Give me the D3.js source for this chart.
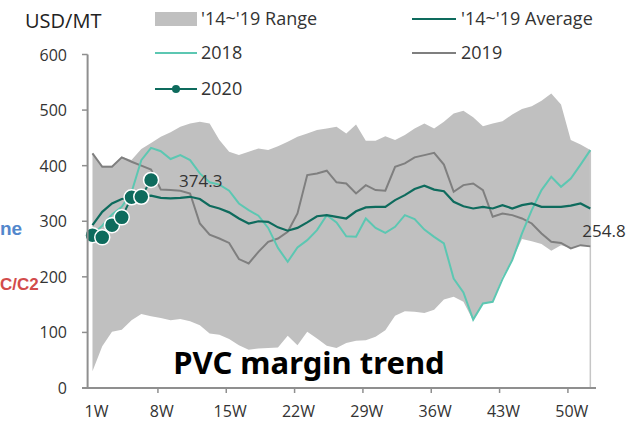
<!DOCTYPE html>
<html>
<head>
<meta charset="utf-8">
<script src="https://cdn.jsdelivr.net/npm/d3@7"></script>
<style>
html,body{margin:0;padding:0;background:#fff;}
svg{display:block;font-family:"Open Sans","Noto Sans",sans-serif;}
</style>
</head>
<body>
<svg id="chart" width="644" height="424"></svg>
<script>
const weeks = d3.range(1, 53);
const tickWeeks = [1, 8, 15, 22, 29, 36, 43, 50];
const tickLabels = ["1W", "8W", "15W", "22W", "29W", "36W", "43W", "50W"];
const yTicks = [0, 100, 200, 300, 400, 500, 600];

const rangeHigh = [423,400,400,416,410,430,441,452,460,470,476,479,476,446,425,419,425,431,428,435,
  443,452,458,464,467,470,458,474,445,445,453,446,455,467,476,467,479,494,499,487,
  471,476,480,492,502,507,517,530,510,446,438,428];
const rangeLow = [30,75,101,105,122,133,129,126,122,124,120,113,98,96,88,77,69,71,72,73,
  94,77,101,89,76,72,81,85,86,92,104,130,138,137,135,141,159,164,155,121,
  152,155,200,230,268,264,259,247,257,252,257,254];
const avg = [293,317,332,340,342,345,346,342,341,342,344,340,328,323,316,305,296,300,299,289,
  283,288,298,309,311,308,305,318,325,326,326,338,347,358,364,357,354,335,327,323,
  326,323,329,323,329,332,326,326,326,328,332,323];
const y2018 = [276,292,312,326,352,410,432,426,412,419,410,386,370,366,355,332,320,310,288,252,
  227,253,266,284,311,298,273,272,305,288,279,290,311,304,285,272,260,197,172,123,
  152,155,196,230,278,320,356,380,362,377,402,428];
const y2019 = [422,398,398,415,407,400,393,357,356,355,350,296,276,269,261,232,224,245,263,269,
  281,314,383,386,391,370,368,350,365,356,355,398,404,415,419,423,402,353,365,368,
  356,308,314,311,305,296,278,263,261,251,257,254.8];
const y2020 = [275,271,293,307,343,344,374.3];

const svg = d3.select("#chart");

const x = d3.scaleBand().domain(weeks).range([87.6, 595.2]).padding(0);
const cx = w => x(w) + x.bandwidth() / 2;
const y = d3.scaleLinear().domain([0, 600]).range([388, 54.5]);

// partially visible labels from neighbouring chart
svg.append("text").attr("x", 0).attr("y", 235).attr("font-family", "Arial, 'Liberation Sans', sans-serif")
  .attr("font-size", 19).attr("font-weight", "bold").attr("fill", "#5287cc").text("ne");
svg.append("text").attr("x", 0).attr("y", 290).attr("font-family", "Arial, 'Liberation Sans', sans-serif")
  .attr("font-size", 17).attr("font-weight", "bold").attr("fill", "#d24b4b").text("C/C2");

// range area
svg.append("path")
  .datum(weeks.map((w, i) => ({w, lo: rangeLow[i], hi: rangeHigh[i]})))
  .attr("fill", "#c0c0c0")
  .attr("d", d3.area().x(d => cx(d.w)).y0(d => y(d.lo)).y1(d => y(d.hi)));

// right marker line
svg.append("line").attr("x1", cx(52)).attr("x2", cx(52))
  .attr("y1", y(y2018[51])).attr("y2", y(0))
  .attr("stroke", "#c6c6c6").attr("stroke-width", 1.5);

const line = d3.line().x((d, i) => cx(weeks[i])).y(d => y(d));

svg.append("path").datum(y2019).attr("fill", "none").attr("stroke", "#7f7f7f")
  .attr("stroke-width", 2).attr("d", line);
svg.append("path").datum(y2018).attr("fill", "none").attr("stroke", "#5cc7b2")
  .attr("stroke-width", 2).attr("d", line);
svg.append("path").datum(avg).attr("fill", "none").attr("stroke", "#0e6b5d")
  .attr("stroke-width", 2.2).attr("d", line);
svg.append("path").datum(y2020).attr("fill", "none").attr("stroke", "#0e6b5d")
  .attr("stroke-width", 2).attr("d", line);
svg.selectAll("circle.p20").data(y2020).enter().append("circle")
  .attr("class", "p20")
  .attr("cx", (d, i) => cx(weeks[i])).attr("cy", d => y(d)).attr("r", 7.5)
  .attr("fill", "#0e6b5d").attr("stroke", "#fff").attr("stroke-width", 1.5);

// value labels
svg.append("text").attr("x", cx(7) + 28).attr("y", y(y2020[6]) + 7)
  .attr("font-size", 17).attr("fill", "#333").text(String(y2020[6]));
svg.append("text").attr("x", cx(52) - 8).attr("y", y(y2019[51]) - 9)
  .attr("font-size", 17).attr("fill", "#333").text(String(y2019[51]));

// axes
const axisColor = "#8f8f8f";
svg.append("line").attr("x1", 87.6).attr("x2", 87.6).attr("y1", y(600)).attr("y2", y(0))
  .attr("stroke", axisColor).attr("stroke-width", 2);
svg.append("line").attr("x1", 82).attr("x2", 596).attr("y1", y(0)).attr("y2", y(0))
  .attr("stroke", axisColor).attr("stroke-width", 2);

const yg = svg.append("g");
yTicks.forEach(t => {
  yg.append("line").attr("x1", 82).attr("x2", 87.6).attr("y1", y(t)).attr("y2", y(t))
    .attr("stroke", axisColor).attr("stroke-width", 1.5);
  yg.append("text").attr("x", 67).attr("y", y(t)).attr("dy", "0.38em")
    .attr("text-anchor", "end").attr("font-size", 16).attr("fill", "#333").text(t);
});

const xg = svg.append("g");
tickWeeks.forEach((w, i) => {
  if (i > 0) {
    xg.append("line").attr("x1", x(w) + 2).attr("x2", x(w) + 2).attr("y1", y(0)).attr("y2", y(0) + 5)
      .attr("stroke", axisColor).attr("stroke-width", 1.5);
  }
  xg.append("text").attr("x", cx(w) + (i === 0 ? 4 : 1)).attr("y", 417)
    .attr("text-anchor", "middle").attr("font-size", 16).attr("fill", "#333").text(tickLabels[i]);
});

// title
svg.append("text").attr("x", 309).attr("y", 374).attr("text-anchor", "middle")
  .attr("font-family", "'Noto Sans','Open Sans',sans-serif")
  .attr("font-size", 31).attr("font-weight", "bold").attr("fill", "#000").text("PVC margin trend");

// unit
svg.append("text").attr("x", 25).attr("y", 28).attr("font-size", 20).attr("fill", "#222").text("USD/MT");

// legend
const lg = svg.append("g").attr("font-size", 18).attr("fill", "#333");
lg.append("rect").attr("x", 155).attr("y", 12).attr("width", 42).attr("height", 14).attr("fill", "#c0c0c0");
lg.append("text").attr("x", 201).attr("y", 19).attr("dy", "0.36em").text("'14~'19 Range");
lg.append("line").attr("x1", 412).attr("x2", 456).attr("y1", 19).attr("y2", 19).attr("stroke", "#0e6b5d").attr("stroke-width", 2);
lg.append("text").attr("x", 461).attr("y", 19).attr("dy", "0.36em").text("'14~'19 Average");
lg.append("line").attr("x1", 155).attr("x2", 197).attr("y1", 53).attr("y2", 53).attr("stroke", "#5cc7b2").attr("stroke-width", 2);
lg.append("text").attr("x", 201).attr("y", 53).attr("dy", "0.36em").text("2018");
lg.append("line").attr("x1", 412).attr("x2", 456).attr("y1", 53).attr("y2", 53).attr("stroke", "#7f7f7f").attr("stroke-width", 2);
lg.append("text").attr("x", 461).attr("y", 53).attr("dy", "0.36em").text("2019");
lg.append("line").attr("x1", 155).attr("x2", 197).attr("y1", 89).attr("y2", 89).attr("stroke", "#0e6b5d").attr("stroke-width", 2);
lg.append("circle").attr("cx", 176).attr("cy", 89).attr("r", 4).attr("fill", "#0e6b5d");
lg.append("text").attr("x", 201).attr("y", 89).attr("dy", "0.36em").text("2020");
</script>
</body>
</html>
